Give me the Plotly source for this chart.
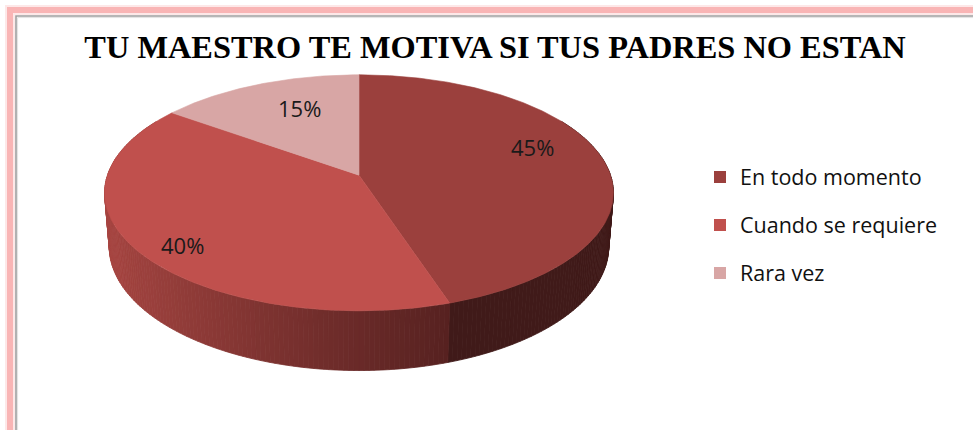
import numpy as np
import plotly.graph_objects as go

# ---------------- data ----------------
categories = ["En todo momento", "Cuando se requiere", "Rara vez"]
values = [45, 40, 15]
labels = ["45%", "40%", "15%"]
title_text = "TU MAESTRO TE MOTIVA SI TUS PADRES NO ESTAN"

# ---------------- style ----------------
top_colors = ["#9B403D", "#C0504D", "#D8A6A5"]
side_dark = [(64, 26, 25), None, (150, 95, 94)]
cuando_side_light = (168, 70, 66)
cuando_side_dark = (86, 33, 32)

W, H = 973, 430
ELEV = np.radians(28.0)
DIST = 6.0
THICK = 0.23
CX, CY = 359.0, 228.5
KX, KY = 247.0, 258.0
se, ce = np.sin(ELEV), np.cos(ELEV)


def project(theta_deg, r, h):
    th = np.radians(theta_deg)
    x = r * np.sin(th)
    z = -r * np.cos(th)
    v = h * ce - z * se
    d = z * ce + h * se
    s = DIST / (DIST - d)
    return CX + KX * x * s, CY - KY * v * s


total = float(sum(values))
ends = np.cumsum(values) / total * 360.0
starts = np.concatenate([[0.0], ends[:-1]])


def slice_of(theta):
    for i, (a, b) in enumerate(zip(starts, ends)):
        if a <= theta % 360 < b:
            return i
    return len(values) - 1


def rgb(c):
    return "rgb(%d,%d,%d)" % tuple(int(round(v)) for v in c)


fig = go.Figure()

# ---- side wall (front half) drawn as thin strips ----
step = 1.0
thetas = np.arange(60.0, 300.0, step)
strips = []
for t1 in thetas:
    t2 = t1 + step
    tm = (t1 + t2) / 2
    i = slice_of(tm)
    a, b = t1, t2
    for bd in ends:
        if t1 < bd < t2:
            if tm < bd:
                b = bd
            else:
                a = bd
    xa_t, ya_t = project(a, 1, THICK)
    xb_t, yb_t = project(b, 1, THICK)
    xb_b, yb_b = project(b, 1, 0)
    xa_b, ya_b = project(a, 1, 0)
    if i == 1:
        px = (xa_t + xb_t) / 2
        f = np.clip((px - 105) / (452 - 105), 0, 1) ** 0.85
        col = tuple(cuando_side_light[k] + (cuando_side_dark[k] - cuando_side_light[k]) * f for k in range(3))
    else:
        col = side_dark[i]
    z = -np.cos(np.radians(tm))
    strips.append((z, [xa_t, xb_t, xb_b, xa_b, xa_t], [ya_t, yb_t, yb_b, ya_b, ya_t], rgb(col)))

strips.sort(key=lambda s: s[0])
for _, xs, ys, col in strips:
    fig.add_trace(go.Scatter(x=xs, y=ys, fill="toself", fillcolor=col, mode="lines",
                             line=dict(color=col, width=0.8), hoverinfo="skip", showlegend=False))

# ---- top faces ----
for i in range(len(values)):
    angs = np.linspace(starts[i], ends[i], max(int((ends[i] - starts[i]) * 2), 4))
    xs, ys = project(angs, 1, THICK)
    cx0, cy0 = project(0.0, 0.0, THICK)
    xs = np.concatenate([[cx0], xs, [cx0]])
    ys = np.concatenate([[cy0], ys, [cy0]])
    fig.add_trace(go.Scatter(x=xs, y=ys, fill="toself", fillcolor=top_colors[i], mode="lines",
                             line=dict(color=top_colors[i], width=0.6), hoverinfo="skip",
                             showlegend=False))

# ---- legend entries ----
for i, name in enumerate(categories):
    fig.add_trace(go.Scatter(x=[None], y=[None], mode="markers", name=name,
                             legendgroup=name,
                             marker=dict(symbol="square", size=12, color=top_colors[i])))

# ---- percentage labels ----
label_r = 0.72
label_nudge = [(-2, -15), (-20, 18), (16, 0)]
for i in range(len(values)):
    mid = (starts[i] + ends[i]) / 2
    lx, ly = project(mid, label_r, THICK)
    fig.add_annotation(x=lx + label_nudge[i][0], y=ly + label_nudge[i][1], text=labels[i],
                       showarrow=False, font=dict(family="Open Sans", size=22, color="#1a1a1a"),
                       xanchor="center", yanchor="middle")

# ---- chart border ----
shapes = [
    dict(type="rect", xref="x", yref="y", x0=10, y0=10, x1=1200, y1=1200,
         line=dict(color="rgba(249,180,180,0.3)", width=10), layer="below"),
    dict(type="rect", xref="x", yref="y", x0=10, y0=10, x1=1200, y1=1200,
         line=dict(color="rgba(248,172,172,0.85)", width=6), layer="below"),
    dict(type="rect", xref="x", yref="y", x0=16, y0=16, x1=1200, y1=1200,
         line=dict(color="#9E9E9E", width=1.6), layer="below"),
    dict(type="rect", xref="x", yref="y", x0=17.6, y0=17.6, x1=1200, y1=1200,
         line=dict(color="#E2E2E2", width=1), layer="below"),
]

fig.update_layout(
    width=W, height=H,
    margin=dict(l=0, r=0, t=0, b=0),
    paper_bgcolor="white", plot_bgcolor="white",
    xaxis=dict(range=[0, W], visible=False, fixedrange=True),
    yaxis=dict(range=[H, 0], visible=False, fixedrange=True),
    shapes=shapes,
    showlegend=True,
    legend=dict(x=700 / W, y=1 - 225 / H, xanchor="left", yanchor="middle",
                font=dict(family="Open Sans", size=21.5, color="#111111"),
                traceorder="grouped", tracegroupgap=17, bgcolor="rgba(0,0,0,0)"),
    title=dict(text="<b>" + title_text + "</b>", x=495 / W, xanchor="center",
               y=1 - 47 / H, yanchor="middle",
               font=dict(family="Liberation Serif", size=32.4, color="black")),
)

fig.write_html("out.html", config={"displayModeBar": False},
               post_script="document.body.style.margin='0px';")
